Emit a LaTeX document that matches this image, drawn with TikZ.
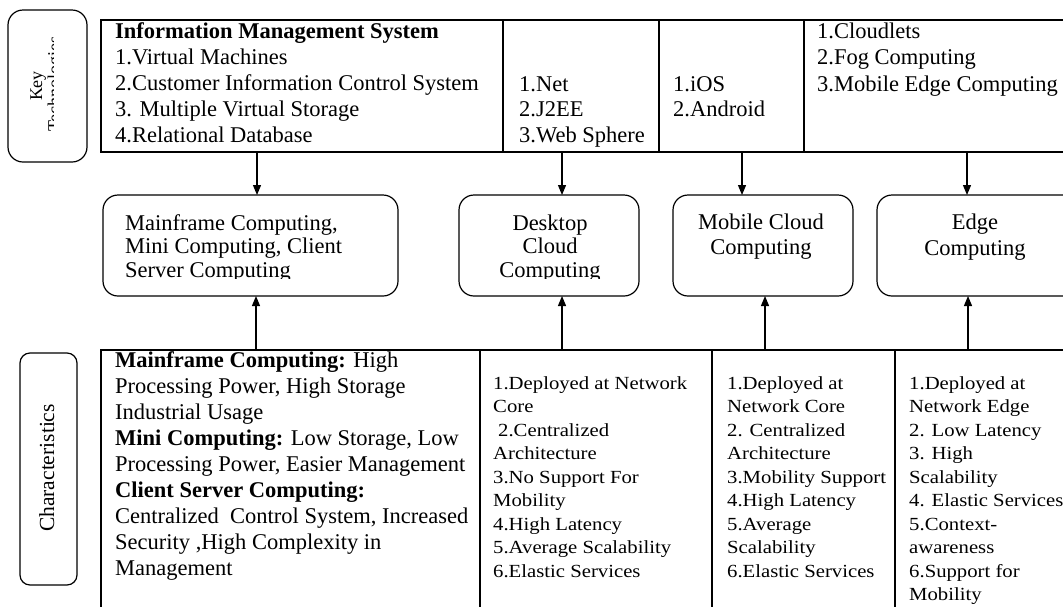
\documentclass[tikz,border=0pt]{standalone}
\usepackage{fontspec}
\setmainfont{Liberation Serif}
\newfontfamily\cellfont[FakeStretch=1.12]{Liberation Serif}
\usetikzlibrary{arrows.meta}
\begin{document}
\begin{tikzpicture}[x=1pt,y=-1pt,
  cellbox/.style={draw, line width=1.2pt, anchor=north west, inner sep=0pt, outer sep=0pt},
  rbox/.style={draw, line width=1.2pt, rounded corners=15pt, anchor=north west, inner sep=0pt, outer sep=0pt},
  mainline/.style={anchor=base west, inner sep=0pt, font=\fontsize{22.5}{26}\selectfont},
  mainlinec/.style={anchor=base, inner sep=0pt, font=\fontsize{22.5}{26}\selectfont},
  smallline/.style={anchor=base west, inner sep=0pt, font=\cellfont\fontsize{18.5}{23.5}\selectfont},
  sidelabel/.style={rotate=90, anchor=base, inner sep=0pt},
  arr/.style={line width=1.2pt, -{Triangle[length=10pt,width=8pt]}}
]
\useasboundingbox (0,0) rectangle (1063,606);
\clip (0,0) rectangle (1063,606);

% label boxes
\node[rbox, minimum width=79pt, minimum height=152pt] (keyb) at (8,10) {};
\node[rbox, rounded corners=10pt, minimum width=57pt, minimum height=232pt] (charb) at (20,353) {};
\node[sidelabel, font=\fontsize{18}{19}\selectfont] (keyt) at (42,86) {Key};
\begin{scope}
  \clip (8,10) rectangle (53.5,162);
  \node[sidelabel, font=\fontsize{18}{19}\selectfont] (techt) at (60,84) {Technologies};
\end{scope}
\node[sidelabel, font=\fontsize{21.5}{24}\selectfont] (charl) at (54,468) {Characteristics};

% top table
\node[cellbox, minimum width=402pt, minimum height=132pt] (kt1) at (101,20) {};
\node[cellbox, minimum width=156pt, minimum height=132pt] (kt2) at (503,20) {};
\node[cellbox, minimum width=145pt, minimum height=132pt] (kt3) at (659,20) {};
\node[cellbox, minimum width=300pt, minimum height=132pt] (kt4) at (804,20) {};

\foreach [count=\i] \t in {{\textbf{Information Management System}},{1.Virtual Machines},{2.Customer Information Control System},{3. Multiple Virtual Storage},{4.Relational Database}}
  \node[mainline] (kta-\i) at ({115},{38+26*(\i-1)}) {\t};
\foreach [count=\i] \t in {{1.Net},{2.J2EE},{3.Web Sphere}}
  \node[mainline] (ktb-\i) at ({519},{91+25.5*(\i-1)}) {\t};
\foreach [count=\i] \t in {{1.iOS},{2.Android}}
  \node[mainline] (ktc-\i) at ({673},{91+25.5*(\i-1)}) {\t};
\foreach [count=\i] \t in {{1.Cloudlets},{2.Fog Computing},{3.Mobile Edge Computing}}
  \node[mainline] (ktd-\i) at ({817},{38+26.5*(\i-1)}) {\t};

% middle boxes
\node[rbox, minimum width=295pt, minimum height=101pt] (mf) at (103,195) {};
\node[rbox, minimum width=180pt, minimum height=101pt] (dc) at (459,195) {};
\node[rbox, minimum width=180pt, minimum height=101pt] (mc) at (673,195) {};
\node[rbox, minimum width=200pt, minimum height=101pt] (ec) at (877,195) {};

\begin{scope}
  \clip (100,190) rectangle (660,278.5);
  \foreach [count=\i] \t in {{Mainframe Computing,},{Mini Computing, Client},{Server Computing}}
    \node[mainline] (mft-\i) at ({125},{230+23.5*(\i-1)}) {\t};
  \foreach [count=\i] \t in {{Desktop},{Cloud},{Computing}}
    \node[mainlinec] (dct-\i) at ({550},{230+23.5*(\i-1)}) {\t};
\end{scope}
\foreach [count=\i] \t in {{Mobile Cloud},{Computing}}
  \node[mainlinec] (mct-\i) at ({761},{229+25*(\i-1)}) {\t};
\foreach [count=\i] \t in {{Edge},{Computing}}
  \node[mainlinec] (ect-\i) at ({975},{229+26*(\i-1)}) {\t};

% bottom table
\node[cellbox, minimum width=379pt, minimum height=300pt] (ch1) at (101,350) {};
\node[cellbox, minimum width=232pt, minimum height=300pt] (ch2) at (480,350) {};
\node[cellbox, minimum width=183pt, minimum height=300pt] (ch3) at (712,350) {};
\node[cellbox, minimum width=250pt, minimum height=300pt] (ch4) at (895,350) {};

\foreach [count=\i] \t in {{\textbf{Mainframe Computing:} High},{Processing Power, High Storage},{Industrial Usage},{\textbf{Mini Computing:} Low Storage, Low},{Processing Power, Easier Management},{\textbf{Client Server Computing:}},{Centralized\ \ Control System, Increased},{Security ,High Complexity in},{Management}}
  \node[mainline] (cha-\i) at ({115},{367+26.1*(\i-1)}) {\t};
\foreach [count=\i] \t in {{1.Deployed at Network},{Core},{\hspace{5pt}2.Centralized},{Architecture},{3.No Support For},{Mobility},{4.High Latency},{5.Average Scalability},{6.Elastic Services}}
  \node[smallline] (chb-\i) at ({493},{389+23.5*(\i-1)}) {\t};
\foreach [count=\i] \t in {{1.Deployed at},{Network Core},{2. Centralized},{Architecture},{3.Mobility Support},{4.High Latency},{5.Average},{Scalability},{6.Elastic Services}}
  \node[smallline] (chc-\i) at ({727},{389+23.5*(\i-1)}) {\t};
\foreach [count=\i] \t in {{1.Deployed at},{Network Edge},{2. Low Latency},{3. High},{Scalability},{4. Elastic Services},{5.Context-},{awareness},{6.Support for},{Mobility}}
  \node[smallline] (chd-\i) at ({909},{389+23.5*(\i-1)}) {\t};

% connectors
\coordinate (d1) at (257,0);
\coordinate (d2) at (562,0);
\coordinate (d3) at (742,0);
\coordinate (d4) at (967,0);
\coordinate (u1) at (256,0);
\coordinate (u2) at (562,0);
\coordinate (u3) at (765,0);
\coordinate (u4) at (968,0);
\draw[arr] (kt1.south -| d1) -- (mf.north -| d1);
\draw[arr] (kt2.south -| d2) -- (dc.north -| d2);
\draw[arr] (kt3.south -| d3) -- (mc.north -| d3);
\draw[arr] (kt4.south -| d4) -- (ec.north -| d4);
\draw[arr] (ch1.north -| u1) -- (mf.south -| u1);
\draw[arr] (ch2.north -| u2) -- (dc.south -| u2);
\draw[arr] (ch3.north -| u3) -- (mc.south -| u3);
\draw[arr] (ch4.north -| u4) -- (ec.south -| u4);
\end{tikzpicture}
\end{document}
